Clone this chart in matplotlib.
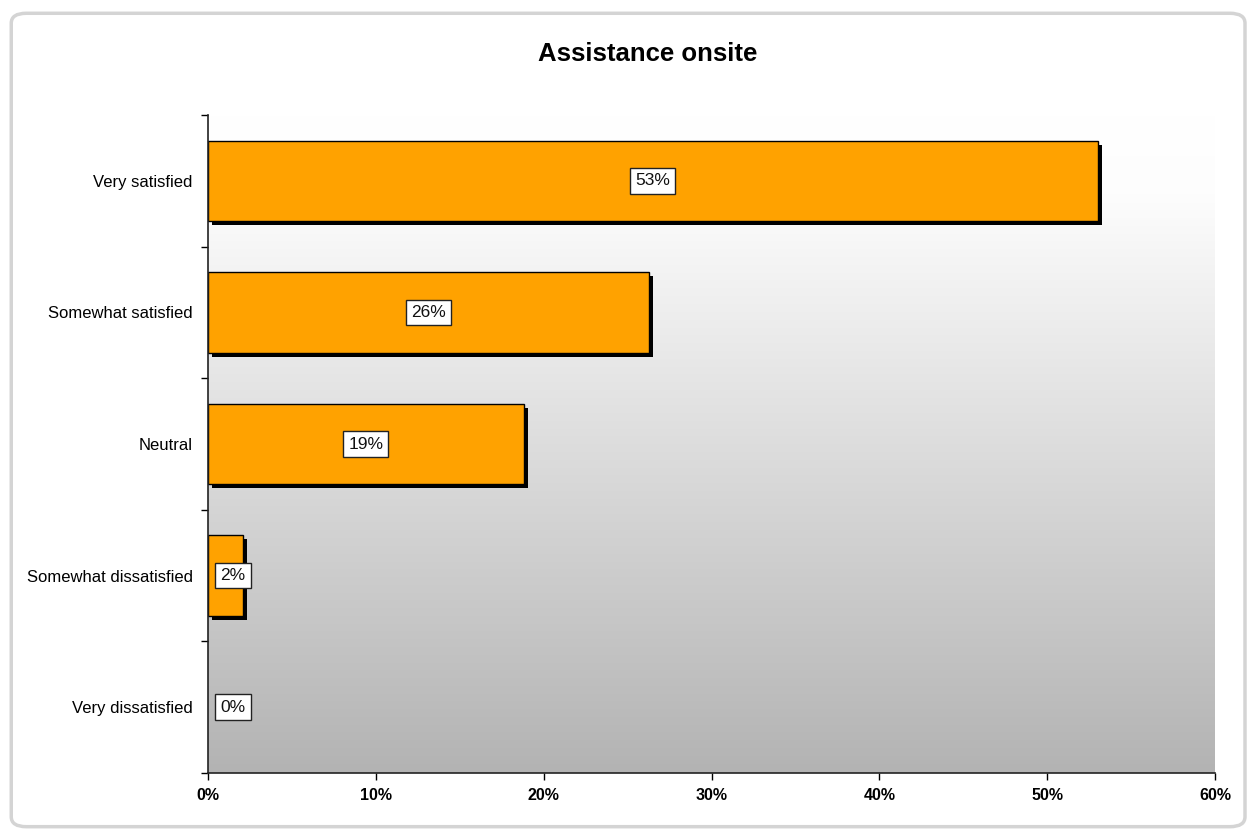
import numpy as np
import matplotlib
matplotlib.use('Agg')
import matplotlib.pyplot as plt
from matplotlib.patches import FancyBboxPatch, Rectangle

plt.rcParams['font.family'] = ['Liberation Sans', 'DejaVu Sans']

# data
categories = ['Very satisfied', 'Somewhat satisfied', 'Neutral',
              'Somewhat dissatisfied', 'Very dissatisfied']
values = [53.0, 26.3, 18.8, 2.1, 0.0]
labels = ['53%', '26%', '19%', '2%', '0%']
xticks = [0, 10, 20, 30, 40, 50, 60]

fig = plt.figure(figsize=(12.5, 8.3), dpi=100)

# rounded outer frame
frame = FancyBboxPatch((0.009, 0.004), 0.987, 0.98, boxstyle='round,pad=0,rounding_size=0.012',
                       transform=fig.transFigure, facecolor='white',
                       edgecolor='#d4d4d4', linewidth=2.5, zorder=-5)
fig.patches.append(frame)

ax = fig.add_axes([0.1664, 0.0687, 0.8056, 0.7927])
ax.set_facecolor('none')

n = len(categories)
ypos = np.arange(n)[::-1]  # first category on top

# gradient background white -> gray
grad = np.linspace(0, 1, 256).reshape(-1, 1)
cmap = matplotlib.colors.LinearSegmentedColormap.from_list(
    'bg', [(0, '#ffffff'), (0.12, '#fdfdfd'), (1, '#b3b3b3')])
ax.imshow(grad, aspect='auto', cmap=cmap, extent=[0, 60, -0.5, n - 0.5],
          origin='upper', zorder=0)

bar_h = 0.61
# shadow offset (~4 px right and down)
dx = 60 / 1007 * 4
dy = 4 / 131.6
for y, v in zip(ypos, values):
    if v > 0:
        ax.add_patch(Rectangle((dx, y - bar_h / 2 - dy), v, bar_h,
                               facecolor='black', edgecolor='none', zorder=1))
edges = ['black' if v > 0 else 'none' for v in values]
ax.barh(ypos, values, height=bar_h, color='#ffa200', edgecolor=edges,
        linewidth=1.0, zorder=2)

for y, v, lab in zip(ypos, values, labels):
    xc = v / 2 if v > 5 else 1.5
    ax.text(xc, y, lab, ha='center', va='center', fontsize=12.5, color='#111111',
            zorder=3,
            bbox=dict(boxstyle='square,pad=0.3', facecolor='white',
                      edgecolor='#222222', linewidth=1))

ax.set_xlim(0, 60)
ax.set_ylim(-0.5, n - 0.5)
ax.set_xticks(xticks)
ax.set_xticklabels([f'{t}%' for t in xticks], fontweight='bold', fontsize=11.5)
ax.set_yticks(ypos)
ax.set_yticklabels(categories, fontsize=12)
ax.set_yticks(np.arange(n + 1) - 0.5, minor=True)
ax.tick_params(axis='y', which='major', length=0, pad=11)
ax.tick_params(axis='y', which='minor', length=5, width=1, direction='out')
ax.tick_params(axis='x', length=5, width=1, direction='out', pad=6)

for s in ['top', 'right']:
    ax.spines[s].set_visible(False)
for s in ['left', 'bottom']:
    ax.spines[s].set_linewidth(1.2)
    ax.spines[s].set_color('#222222')
    ax.spines[s].set_zorder(5)

fig.text(0.518, 0.935, 'Assistance onsite', ha='center', va='center',
         fontsize=18.5, fontweight='bold')

fig.savefig('out.png', dpi=100)
